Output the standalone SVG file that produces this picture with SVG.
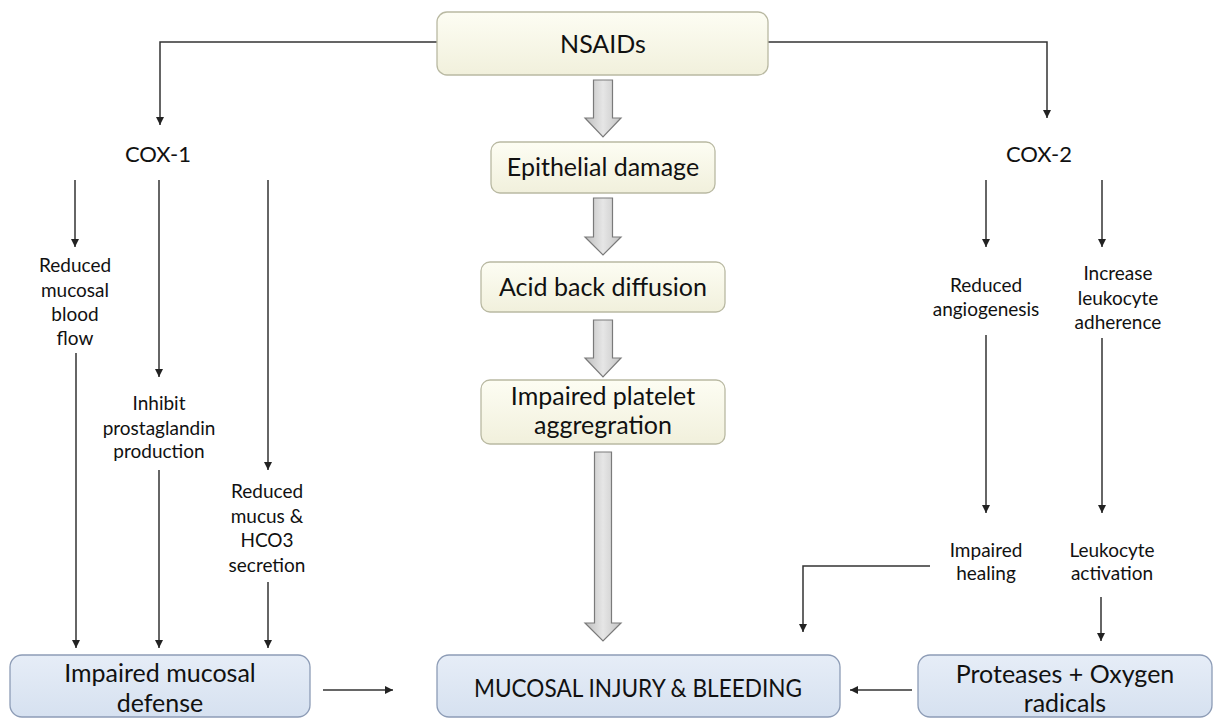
<svg xmlns="http://www.w3.org/2000/svg" width="1215" height="719" viewBox="0 0 1215 719">
<defs>
<linearGradient id="cream" x1="0" y1="0" x2="0" y2="1">
<stop offset="0" stop-color="#fdfdf3"/>
<stop offset="1" stop-color="#f1f0dc"/>
</linearGradient>
<linearGradient id="blue" x1="0" y1="0" x2="0" y2="1">
<stop offset="0" stop-color="#e6edf7"/>
<stop offset="1" stop-color="#d6e1f0"/>
</linearGradient>
<linearGradient id="grayarrow" x1="0" y1="0" x2="1" y2="0">
<stop offset="0" stop-color="#bdbdbd"/>
<stop offset="0.5" stop-color="#e6e6e6"/>
<stop offset="1" stop-color="#c4c4c4"/>
</linearGradient>
<marker id="ah" viewBox="0 0 10 10" refX="10" refY="5" markerWidth="8" markerHeight="8" markerUnits="userSpaceOnUse" orient="auto">
<path d="M0,0 L10,5 L0,10 z" fill="#222"/>
</marker>
</defs>
<style>
.t{font-family:Lato,"Liberation Sans",sans-serif;fill:#111;text-anchor:middle}
.s{font-size:19px}
.m{font-size:22px}
.b{font-size:25px}
.cream{fill:url(#cream);stroke:#b9b9a2;stroke-width:1.3}
.blue{fill:url(#blue);stroke:#8d9cb6;stroke-width:1.3}
.blk{fill:url(#grayarrow);stroke:#7a7a7a;stroke-width:1.2}
.ln{fill:none;stroke:#333;stroke-width:1.5}
.ar{fill:none;stroke:#333;stroke-width:1.5;marker-end:url(#ah)}
</style>
<rect width="1215" height="719" fill="#ffffff"/>

<g id="connectors">
<polyline class="ar" points="437,42 160,42 160,125"/>
<polyline class="ar" points="768,42 1047,42 1047,118"/>
<path class="blk" d="M593.5,80 H612.5 V118 H621 L603,137 L585,118 H593.5 Z"/>
<path class="blk" d="M593.5,198 H612.5 V237 H621 L603,255 L585,237 H593.5 Z"/>
<path class="blk" d="M593.5,320 H612.5 V358 H621 L603,377 L585,358 H593.5 Z"/>
<path class="blk" d="M594.5,452 H611.5 V623 H621 L603,641 L585,623 H594.5 Z"/>
<line class="ar" x1="75" y1="180" x2="75" y2="247"/>
<line class="ar" x1="159" y1="180" x2="159" y2="377"/>
<line class="ar" x1="268" y1="180" x2="268" y2="470"/>
<line class="ar" x1="76" y1="353" x2="76" y2="648"/>
<line class="ar" x1="159" y1="470" x2="159" y2="648"/>
<line class="ar" x1="268" y1="582" x2="268" y2="648"/>
<line class="ar" x1="986" y1="180" x2="986" y2="247"/>
<line class="ar" x1="1102" y1="180" x2="1102" y2="247"/>
<line class="ar" x1="986" y1="335" x2="986" y2="513"/>
<line class="ar" x1="1102" y1="338" x2="1102" y2="513"/>
<polyline class="ar" points="930,566 803,566 803,632"/>
<line class="ar" x1="1101" y1="597" x2="1101" y2="641"/>
<line class="ar" x1="912" y1="690" x2="850" y2="690"/>
<line class="ar" x1="323" y1="690" x2="393" y2="690"/>
</g>

<g id="nsaids">
<rect class="cream" x="437" y="12" width="331" height="63" rx="10"/>
<text class="t b" x="603" y="53">NSAIDs</text>
</g>
<g id="epithelial">
<rect class="cream" x="491" y="142" width="224" height="51" rx="9"/>
<text class="t b" x="603" y="176">Epithelial damage</text>
</g>
<g id="acid">
<rect class="cream" x="481" y="262" width="244" height="50" rx="9"/>
<text class="t b" x="603" y="296">Acid back diffusion</text>
</g>
<g id="platelet">
<rect class="cream" x="481" y="380" width="244" height="64" rx="9"/>
<text class="t b" x="603" y="405">Impaired platelet</text>
<text class="t b" x="603" y="434">aggregration</text>
</g>

<g id="cox1">
<text class="t m" x="158" y="162">COX-1</text>
</g>
<g id="cox2">
<text class="t m" x="1039" y="162">COX-2</text>
</g>

<g id="blood-flow">
<text class="t s" x="75" y="272">Reduced</text>
<text class="t s" x="75" y="297">mucosal</text>
<text class="t s" x="75" y="321">blood</text>
<text class="t s" x="75" y="345">flow</text>
</g>
<g id="prostaglandin">
<text class="t s" x="159" y="410">Inhibit</text>
<text class="t s" x="159" y="435">prostaglandin</text>
<text class="t s" x="159" y="458">production</text>
</g>
<g id="mucus">
<text class="t s" x="267" y="498">Reduced</text>
<text class="t s" x="267" y="523">mucus &amp;</text>
<text class="t s" x="267" y="547">HCO3</text>
<text class="t s" x="267" y="572">secretion</text>
</g>
<g id="angiogenesis">
<text class="t s" x="986" y="292">Reduced</text>
<text class="t s" x="986" y="316">angiogenesis</text>
</g>
<g id="adherence">
<text class="t s" x="1118" y="280">Increase</text>
<text class="t s" x="1118" y="305">leukocyte</text>
<text class="t s" x="1118" y="329">adherence</text>
</g>
<g id="healing">
<text class="t s" x="986" y="557">Impaired</text>
<text class="t s" x="986" y="580">healing</text>
</g>
<g id="activation">
<text class="t s" x="1112" y="557">Leukocyte</text>
<text class="t s" x="1112" y="580">activation</text>
</g>

<g id="defense">
<rect class="blue" x="10" y="655" width="300" height="62" rx="12"/>
<text class="t b" x="160" y="682">Impaired mucosal</text>
<text class="t b" x="160" y="712">defense</text>
</g>
<g id="injury">
<rect class="blue" x="437" y="655" width="403" height="62" rx="12"/>
<text class="t b" x="638" y="697" textLength="328" lengthAdjust="spacingAndGlyphs">MUCOSAL INJURY &amp; BLEEDING</text>
</g>
<g id="proteases">
<rect class="blue" x="918" y="655" width="294" height="62" rx="12"/>
<text class="t b" x="1065" y="683">Proteases + Oxygen</text>
<text class="t b" x="1065" y="712">radicals</text>
</g>
</svg>
